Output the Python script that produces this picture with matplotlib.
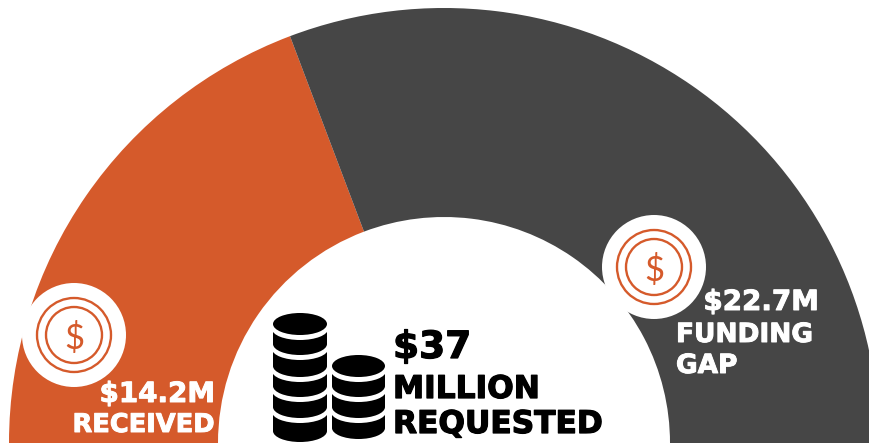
import matplotlib
matplotlib.use("Agg")
from matplotlib import pyplot as plt
from matplotlib import patheffects
from matplotlib.patches import Wedge, Circle, Ellipse, Rectangle

values = [14.2, 22.7]
colors = ["#D55A2B", "#464646"]
total_label = ["$37", "MILLION", "REQUESTED"]
received_label = ["$14.2M", "RECEIVED"]
gap_label = ["$22.7M", "FUNDING", "GAP"]

ORANGE = colors[0]
FONT = "DejaVu Sans"


def draw_coin(ax, x, y):
    ax.add_patch(Circle((x, y), 52, fc="white", ec="none", zorder=3))
    for r in (37, 28):
        ax.add_patch(Circle((x, y), r, fc="none", ec=ORANGE, lw=1.7, zorder=4))
    ax.text(x, y, "$", color=ORANGE, fontsize=25, family="Lato", weight="normal",
            ha="center", va="center_baseline", zorder=5)


def draw_stack(ax, left, right, top, bottoms):
    # drawn from the bottom up, each band is cut by a white curve of constant height
    cx = (left + right) / 2
    w = right - left
    ry = 11
    gap = 5
    tops = [top] + bottoms[:-1]
    for y0, y1 in reversed(list(zip(tops, bottoms))):
        ax.add_patch(Ellipse((cx, y1), w, 2 * ry, fc="black", ec="none", zorder=3))
        ax.add_patch(Rectangle((left, y0 + gap), w, y1 - y0 - gap, fc="black", ec="none", zorder=3))
        ax.add_patch(Ellipse((cx, y0 + gap), w + 2, 2 * ry, fc="white", ec="none", zorder=3))
    ax.add_patch(Ellipse((cx, top), w, 2 * ry, fc="black", ec="none", zorder=3))


fig = plt.figure(figsize=(8.7, 4.44), dpi=100)
ax = fig.add_axes([0, 0, 1, 1])
ax.set_xlim(0, 870)
ax.set_ylim(444, 0)
ax.axis("off")

# half donut, starts on the left and goes over the top
cx, cy = 444, 443
start = 180
for value, color in zip(values, colors):
    end = start + 180 * value / sum(values)
    ax.add_patch(Wedge((cx, cy), 435, start, end, width=209, fc=color, ec="none"))
    start = end

draw_coin(ax, 74, 335)
draw_coin(ax, 654, 267)

draw_stack(ax, 273, 327, 324, [344, 366, 386, 407, 431])
draw_stack(ax, 332, 385, 366, [386, 407, 428])

bold = dict(family=FONT, weight="bold", va="baseline", zorder=6)
thick_w = [patheffects.withStroke(linewidth=0.7, foreground="white")]
thick_k = [patheffects.withStroke(linewidth=0.9, foreground="black")]

ax.text(215, 402, received_label[0], color="white", fontsize=20, ha="right", path_effects=thick_w, **bold)
ax.text(215, 432, received_label[1], color="white", fontsize=18.5, ha="right", path_effects=thick_w, **bold)

ax.text(393, 358, total_label[0], color="black", fontsize=27, path_effects=thick_k, **bold)
ax.text(393, 398, total_label[1], color="black", fontsize=22.5, path_effects=thick_k, **bold)
ax.text(393, 433, total_label[2], color="black", fontsize=22.5, path_effects=thick_k, **bold)

ax.text(819, 310, gap_label[0], color="white", fontsize=20, ha="right", path_effects=thick_w, **bold)
ax.text(676, 342, gap_label[1], color="white", fontsize=19, path_effects=thick_w, **bold)
ax.text(676, 373, gap_label[2], color="white", fontsize=19, path_effects=thick_w, **bold)

fig.savefig("out.png", dpi=100)
